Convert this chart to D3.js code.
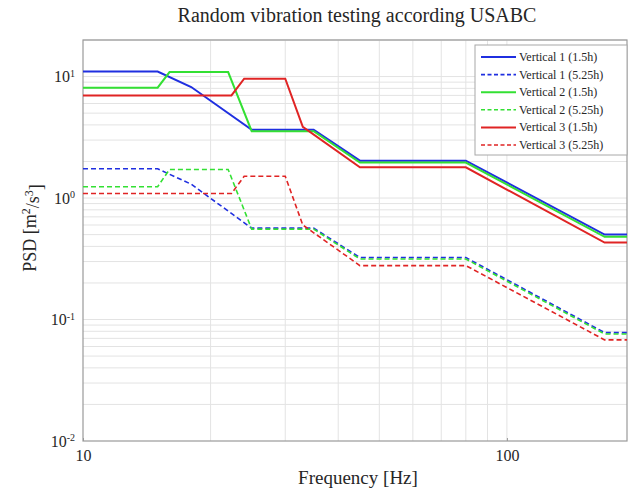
<!DOCTYPE html>
<html>
<head>
<meta charset="utf-8">
<script src="https://cdn.jsdelivr.net/npm/d3@7"></script>
<style>
  html, body { margin: 0; padding: 0; background: #fff; }
  svg { display: block; }
  svg text { font-family: "Liberation Serif", "DejaVu Serif", serif; }
</style>
</head>
<body>
<svg id="chart" width="631" height="491"></svg>
<script>
// PSD profiles (frequency in Hz, PSD in m^2/s^3)
const freqV1 = [10, 15, 18, 25, 35, 45, 80, 170, 192];
const psdV1Short = [11.0, 11.0, 8.2, 3.65, 3.65, 2.03, 2.03, 0.50, 0.50];
const psdV1Long  = [1.74, 1.74, 1.30, 0.565, 0.565, 0.324, 0.324, 0.078, 0.078];

const freqV2 = [10, 15, 16, 22, 25, 35, 45, 80, 170, 192];
const psdV2Short = [8.1, 8.1, 10.9, 10.9, 3.55, 3.55, 1.96, 1.96, 0.48, 0.48];
const psdV2Long  = [1.24, 1.24, 1.72, 1.72, 0.555, 0.555, 0.315, 0.315, 0.076, 0.076];

const freqV3 = [10, 22.4, 24, 30, 33, 45, 80, 170, 192];
const psdV3Short = [7.0, 7.0, 9.6, 9.6, 3.85, 1.79, 1.79, 0.43, 0.43];
const psdV3Long  = [1.09, 1.09, 1.51, 1.51, 0.60, 0.278, 0.278, 0.068, 0.068];

const seriesNames = [
  "Vertical 1 (1.5h)", "Vertical 1 (5.25h)",
  "Vertical 2 (1.5h)", "Vertical 2 (5.25h)",
  "Vertical 3 (1.5h)", "Vertical 3 (5.25h)"
];
const seriesColors = ["#1f2fe0", "#1f2fe0", "#33e033", "#33e033", "#e02424", "#e02424"];
const seriesDashed = [false, true, false, true, false, true];
const seriesFreq = [freqV1, freqV1, freqV2, freqV2, freqV3, freqV3];
const seriesPsd = [psdV1Short, psdV1Long, psdV2Short, psdV2Long, psdV3Short, psdV3Long];

const xTicks = [10, 100];
const yTicks = [0.01, 0.1, 1, 10];
const yTickExp = ["-2", "-1", "0", "1"];

const FONT = "Liberation Serif";
const INK = "#262626";

const svg = d3.select("#chart");
const plotLeft = 83, plotRight = 627, plotTop = 40, plotBottom = 441;

const x = d3.scaleLog().domain([10, 192]).range([plotLeft, plotRight]);
const y = d3.scaleLog().domain([0.01, 20]).range([plotBottom, plotTop]);

// grid
const grid = svg.append("g").attr("stroke", "#e3e3e3").attr("stroke-width", 1);
const xGrid = [];
for (let d = 10; d <= 100; d *= 10) for (let k = 1; k <= 9; k++) { const v = d * k; if (v > 10 && v < 192) xGrid.push(v); }
grid.selectAll("line.xg").data(xGrid).join("line")
  .attr("x1", d => x(d)).attr("x2", d => x(d))
  .attr("y1", plotTop).attr("y2", plotBottom);
const yGrid = [];
for (let d = 0.01; d <= 10; d *= 10) for (let k = 1; k <= 9; k++) { const v = +(d * k).toPrecision(3); if (v > 0.01 && v <= 20) yGrid.push(v); }
yGrid.push(20);
grid.selectAll("line.yg").data(yGrid).join("line")
  .attr("x1", plotLeft).attr("x2", plotRight)
  .attr("y1", d => y(d)).attr("y2", d => y(d));

// frame
svg.append("rect").attr("x", plotLeft).attr("y", plotTop)
  .attr("width", plotRight - plotLeft).attr("height", plotBottom - plotTop)
  .attr("fill", "none").attr("stroke", "#9a9a9a").attr("stroke-width", 1.2);

// axes
const xAxis = svg.append("g").attr("transform", `translate(0,${plotBottom})`)
  .call(d3.axisBottom(x).tickValues(xTicks).tickFormat(d3.format("d")).tickSize(3).tickPadding(6));
xAxis.attr("font-family", FONT);
xAxis.select(".domain").remove();
xAxis.selectAll("line").attr("stroke", "#999").attr("transform", "translate(0,-3)");
xAxis.selectAll("text").attr("font-size", 16).attr("fill", INK).attr("font-family", FONT);

const yAxis = svg.append("g").attr("transform", `translate(${plotLeft},0)`)
  .call(d3.axisLeft(y).tickValues(yTicks).tickSize(0).tickPadding(8));
yAxis.attr("font-family", FONT);
yAxis.select(".domain").remove();
yAxis.selectAll("text").attr("font-size", 16).attr("fill", INK)
  .attr("font-family", FONT)
  .text(null)
  .each(function(d, i) {
    const t = d3.select(this);
    t.append("tspan").text("10");
    t.append("tspan").attr("dy", "-0.55em").attr("font-size", 10).text(yTickExp[i]);
  });

// series
const line = d3.line().x(d => x(d[0])).y(d => y(d[1]));
seriesNames.forEach((name, i) => {
  const pts = seriesFreq[i].map((f, j) => [f, seriesPsd[i][j]]);
  svg.append("path").datum(pts)
    .attr("d", line)
    .attr("fill", "none")
    .attr("stroke", seriesColors[i])
    .attr("stroke-width", seriesDashed[i] ? 1.6 : 2)
    .attr("stroke-dasharray", seriesDashed[i] ? "5,3" : null);
});

// legend
const lg = svg.append("g").attr("font-family", FONT);
lg.append("rect").attr("x", 475).attr("y", 45).attr("width", 152).attr("height", 110)
  .attr("fill", "#fff").attr("stroke", "#a8a8a8").attr("stroke-width", 1);
seriesNames.forEach((name, i) => {
  const yy = 57 + i * 17.6;
  lg.append("line").attr("x1", 481).attr("x2", 516).attr("y1", yy).attr("y2", yy)
    .attr("stroke", seriesColors[i]).attr("stroke-width", seriesDashed[i] ? 1.6 : 2)
    .attr("stroke-dasharray", seriesDashed[i] ? "4,2.5" : null);
  lg.append("text").attr("x", 519).attr("y", yy + 4).attr("font-size", 12)
    .attr("font-family", FONT).attr("fill", INK).text(name);
});

// titles
svg.append("text").attr("x", 357).attr("y", 22).attr("text-anchor", "middle")
  .attr("font-family", FONT).attr("font-size", 20).attr("fill", INK)
  .text("Random vibration testing according USABC");
svg.append("text").attr("x", 358).attr("y", 484).attr("text-anchor", "middle")
  .attr("font-family", FONT).attr("font-size", 19).attr("fill", INK).text("Frequency [Hz]");
const yl = svg.append("text").attr("transform", "translate(36,228) rotate(-90)")
  .attr("text-anchor", "middle").attr("font-family", FONT).attr("font-size", 18).attr("fill", INK);
yl.append("tspan").text("PSD [m");
yl.append("tspan").attr("dy", "-0.5em").attr("font-size", 12).text("2");
yl.append("tspan").attr("dy", "0.5em").text("/s");
yl.append("tspan").attr("dy", "-0.5em").attr("font-size", 12).text("3");
yl.append("tspan").attr("dy", "0.5em").text("]");
</script>
</body>
</html>
